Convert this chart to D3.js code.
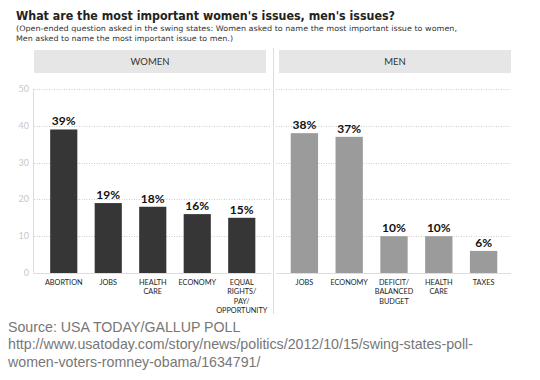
<!DOCTYPE html>
<html><head><meta charset="utf-8">
<script src="https://cdn.jsdelivr.net/npm/d3@7"></script>
<style>body{margin:0;background:#fff}</style>
</head><body>
<script>
const womenCats = [["ABORTION"],["JOBS"],["HEALTH","CARE"],["ECONOMY"],["EQUAL","RIGHTS/","PAY/","OPPORTUNITY"]];
const womenVals = [39,19,18,16,15];
const menCats = [["JOBS"],["ECONOMY"],["DEFICIT/","BALANCED","BUDGET"],["HEALTH","CARE"],["TAXES"]];
const menVals = [38,37,10,10,6];
const yTicks = [0,10,20,30,40,50];
const title = "What are the most important women's issues, men's issues?";
const subtitle = ["(Open-ended question asked in the swing states: Women asked to name the most important issue to women,",
                  "Men asked to name the most important issue to men.)"];
const source = ["Source: USA TODAY/GALLUP POLL",
  "http://www.usatoday.com/story/news/politics/2012/10/15/swing-states-poll-",
  "women-voters-romney-obama/1634791/"];

const W=540,H=380;
const svg=d3.select("body").append("svg").attr("width",W).attr("height",H);
const font="Lato, 'DejaVu Sans', sans-serif";

svg.append("text").attr("x",16).attr("y",20).attr("font-family","'DejaVu Sans', sans-serif")
  .attr("font-weight","bold").attr("font-size",13).attr("fill","#222")
  .attr("textLength",379).attr("lengthAdjust","spacingAndGlyphs").text(title);
svg.selectAll(".sub").data(subtitle).enter().append("text")
  .attr("x",16).attr("y",(d,i)=>31+i*9.5).attr("font-family","'DejaVu Sans', sans-serif")
  .attr("font-size",7.5).attr("fill","#333")
  .attr("textLength",(d,i)=>i===0?441:217).attr("lengthAdjust","spacingAndGlyphs").text(d=>d);

const y=d3.scaleLinear().domain([0,50]).range([273,89]);

// y axis labels
svg.selectAll(".yt").data(yTicks).enter().append("text")
  .attr("x",29).attr("y",d=>y(d)+3).attr("text-anchor","end")
  .attr("font-family",font).attr("font-size",9).attr("fill","#c8c8c8").text(d=>d);
// left axis line
svg.append("line").attr("x1",33.5).attr("x2",33.5).attr("y1",89).attr("y2",273.5).attr("stroke","#ddd");
// separator
svg.append("line").attr("x1",273.5).attr("x2",273.5).attr("y1",48).attr("y2",314).attr("stroke","#ddd");

function panel(x0,x1,hx0,hx1,name,cats,vals,color,bx0,bx1){
  svg.append("rect").attr("x",hx0).attr("y",50).attr("width",hx1-hx0).attr("height",23).attr("fill","#e6e6e6");
  svg.append("text").attr("x",(hx0+hx1)/2).attr("y",65).attr("text-anchor","middle")
    .attr("font-family",font).attr("font-size",9.5).attr("fill","#333").text(name);
  svg.selectAll(null).data(yTicks.filter(t=>t>0)).enter().append("line")
    .attr("x1",x0).attr("x2",x1).attr("y1",d=>Math.round(y(d))+0.5).attr("y2",d=>Math.round(y(d))+0.5)
    .attr("stroke","#ccc").attr("stroke-dasharray","1,1.5");
  svg.append("line").attr("x1",x0).attr("x2",x1).attr("y1",273.5).attr("y2",273.5).attr("stroke","#ddd");
  const x=d3.scaleBand().domain(d3.range(vals.length)).range([bx0,bx1]).paddingInner(0.39).paddingOuter(0.195);
  const g=svg.append("g");
  g.selectAll("rect").data(vals).enter().append("rect")
    .attr("x",(d,i)=>x(i)).attr("width",x.bandwidth()).attr("y",d=>y(d)).attr("height",d=>y(0)-y(d)).attr("fill",color);
  g.selectAll(".v").data(vals).enter().append("text")
    .attr("x",(d,i)=>x(i)+x.bandwidth()/2).attr("y",d=>y(d)-4).attr("text-anchor","middle")
    .attr("font-family",font).attr("font-weight","bold").attr("font-size",12).attr("fill","#111").text(d=>d+"%");
  cats.forEach((lines,i)=>{
    lines.forEach((l,j)=>{
      g.append("text").attr("x",x(i)+x.bandwidth()/2).attr("y",285+j*9.3).attr("text-anchor","middle")
        .attr("font-family",font).attr("font-size",7.3).attr("fill","#222").text(l);
    });
  });
}
panel(34,271,34,266,"WOMEN",womenCats,womenVals,"#363636",41.5,264);
panel(276,511,279,511,"MEN",menCats,menVals,"#9b9b9b",282,506);

svg.selectAll(".src").data(source).enter().append("text")
  .attr("x",8).attr("y",(d,i)=>332+i*17.3).attr("font-family","'Liberation Sans', Arial, sans-serif")
  .attr("font-size",14.2).attr("fill","#777").text(d=>d);
</script>
</body></html>
